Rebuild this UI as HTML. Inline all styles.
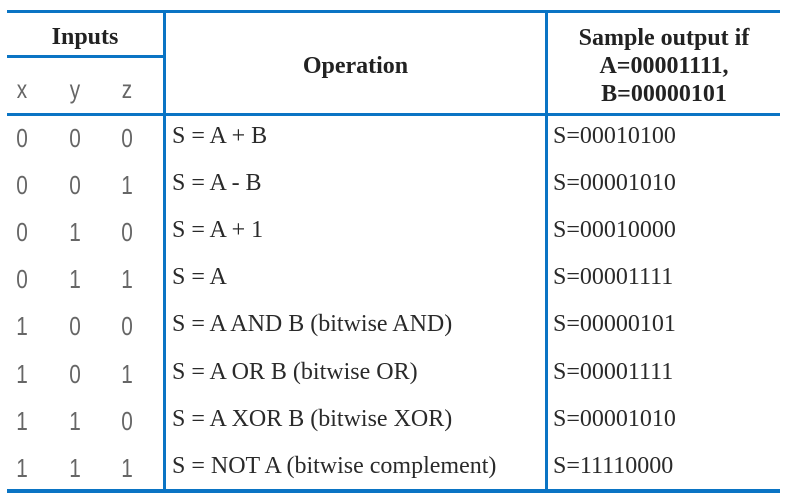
<!DOCTYPE html>
<html><head><meta charset="utf-8"><style>
body{margin:0;width:808px;height:500px;background:#fff;position:relative;overflow:hidden}
.l{position:absolute;background:#0a74c4}
.t{position:absolute;font-family:"Liberation Serif",serif;font-size:24px;color:#2a2a2a;white-space:nowrap;line-height:28px}
.d{position:absolute;font-family:"Liberation Sans",sans-serif;font-size:26px;color:#666;font-weight:300;line-height:28px;width:20px;text-align:center;transform:scaleX(0.8)}
.b{font-weight:bold;color:#222}
</style></head><body>
<div class="l" style="left:7px;top:10px;width:773px;height:3px"></div>
<div class="l" style="left:7px;top:55px;width:158px;height:3px"></div>
<div class="l" style="left:7px;top:113px;width:773px;height:3px"></div>
<div class="l" style="left:7px;top:489px;width:773px;height:4px"></div>
<div class="l" style="left:163px;top:10px;width:3px;height:483px"></div>
<div class="l" style="left:545px;top:10px;width:3px;height:483px"></div>
<div class="t b" style="left:7px;top:23px;width:156px;text-align:center">Inputs</div>
<div class="d" style="left:12px;top:75px">x</div>
<div class="d" style="left:65px;top:75px">y</div>
<div class="d" style="left:117px;top:75px">z</div>
<div class="t b" style="left:166px;top:52px;width:379px;text-align:center">Operation</div>
<div class="t b" style="left:548px;top:24px;width:232px;text-align:center;line-height:28px">Sample output if<br>A=00001111,<br>B=00000101</div>
<div id="rows"></div>
<script>
const xs=["0","0","0","0","1","1","1","1"];
const ys=["0","0","1","1","0","0","1","1"];
const zs=["0","1","0","1","0","1","0","1"];
const ops=["S = A + B","S = A - B","S = A + 1","S = A","S = A AND B (bitwise AND)","S = A OR B (bitwise OR)","S = A XOR B (bitwise XOR)","S = NOT A (bitwise complement)"];
const outs=["S=00010100","S=00001010","S=00010000","S=00001111","S=00000101","S=00001111","S=00001010","S=11110000"];
const r=document.getElementById('rows');
function add(cls,txt,left,top,name){const e=document.createElement('div');e.className=cls;e.textContent=txt;e.style.left=left+'px';e.style.top=top+'px';


r.appendChild(e);}
for(let i=0;i<8;i++){const top=122+i*47.1;
add('d',xs[i],12,top+2,'x-value');
add('d',ys[i],65,top+2,'y-value');
add('d',zs[i],117,top+2,'z-value');
add('t',ops[i],172,top,'operation');
add('t',outs[i],553,top,'sample-output');}
</script>
</body></html>
